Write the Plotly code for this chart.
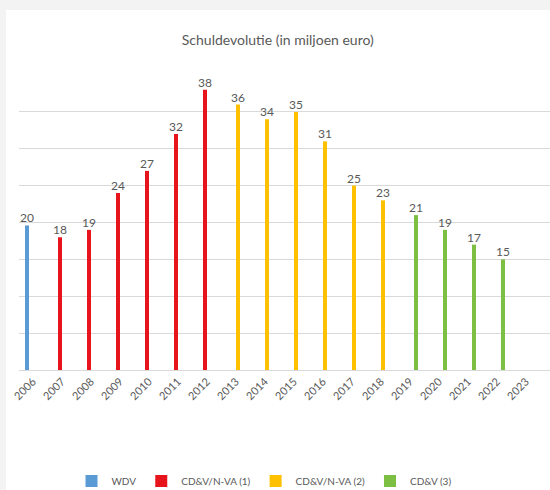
import plotly.graph_objects as go

years = [str(y) for y in range(2006, 2024)]
wdv = {"2006": 19.6}
cdv_nva1 = {"2007": 18, "2008": 19, "2009": 24, "2010": 27, "2011": 32, "2012": 38}
cdv_nva2 = {"2013": 36, "2014": 34, "2015": 35, "2016": 31, "2017": 25, "2018": 23}
cdv3 = {"2019": 21, "2020": 19, "2021": 17, "2022": 15}

series_names = ["WDV", "CD&V/N-VA (1)", "CD&V/N-VA (2)", "CD&V (3)"]
series_data = [wdv, cdv_nva1, cdv_nva2, cdv3]
colors = ["#5B9BD5", "#E8141C", "#FFC000", "#7CBF43"]

TXT = "#595959"
FONT = "Lato, 'Open Sans', Arial, sans-serif"

fig = go.Figure()
for name, d, c in zip(series_names, series_data, colors):
    ys = [d.get(y) for y in years]
    fig.add_trace(go.Bar(
        x=years, y=ys, name=name, marker=dict(color=c, line=dict(width=0)),
        text=[f"{v:.0f}" if v is not None else "" for v in ys],
        textposition="outside", constraintext="none", cliponaxis=False,
        textfont=dict(size=12, color=TXT, family=FONT),
    ))

fig.update_layout(
    width=550, height=490,
    margin=dict(l=19, r=0, t=75, b=120, autoexpand=False),
    paper_bgcolor="#f3f3f3", plot_bgcolor="rgba(0,0,0,0)",
    barmode="group", bargap=0.448, bargroupgap=0,
    font=dict(family=FONT, color=TXT),
    title=dict(text="Schuldevolutie (in miljoen euro)", x=0.505, xref="container",
               xanchor="center", y=1 - 40 / 490, yanchor="middle",
               font=dict(size=14, color=TXT, family=FONT)),
    showlegend=True,
    legend=dict(orientation="h", x=0.48, xref="container", xanchor="center",
                y=1 - 481 / 490, yref="container", yanchor="middle",
                font=dict(size=10, color=TXT, family=FONT),
                itemwidth=30, traceorder="normal", bgcolor="rgba(0,0,0,0)"),
    shapes=[dict(type="rect", xref="paper", yref="paper",
                 x0=(6 - 19) / 531, x1=1.05, y0=-0.45, y1=(370 - 10) / 295,
                 fillcolor="white", line=dict(width=0), layer="below")],
)

fig.update_xaxes(type="category", range=[(19 - 33) / 29, (550 - 33) / 29],
                 tickangle=-45, tickfont=dict(size=11, color=TXT, family=FONT),
                 showgrid=False, showline=True, linecolor="#d9d9d9", linewidth=1,
                 ticks="", automargin=False)
fig.update_yaxes(range=[0, 40], dtick=5, showgrid=True, gridcolor="#d9d9d9",
                 gridwidth=1, zeroline=False, showline=False,
                 showticklabels=False, ticks="", automargin=False)

fig.write_html("out.html", config={"displayModeBar": False},
               post_script="document.body.style.margin='0';document.body.style.overflow='hidden';")
